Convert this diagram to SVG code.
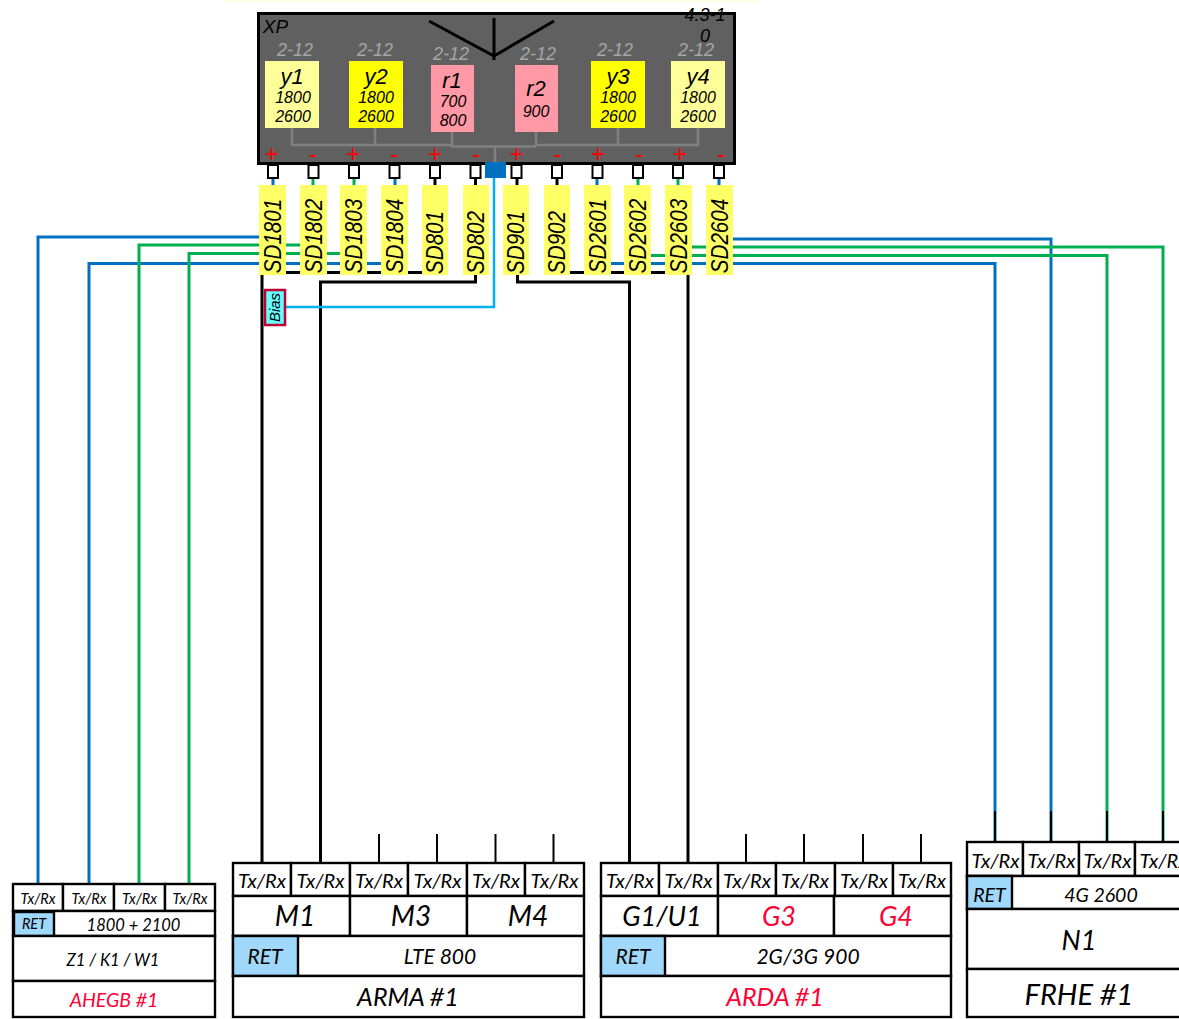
<svg xmlns="http://www.w3.org/2000/svg" width="1179" height="1019" viewBox="0 0 1179 1019">
<style>
text{font-style:italic;text-anchor:middle}
.a{font-family:"Liberation Sans",Arial,sans-serif}
.c{font-family:Lato,"Noto Sans",sans-serif}
.g{font-size:18px;fill:#a6a6a6}
.n{font-size:22px}
.f{font-size:16px}
.pm{font-size:24px;fill:#ff0000;font-style:normal}
.sd{font-size:23.500px}
.t{fill:#fff;stroke:#000;stroke-width:2.4}
.b{fill:#9fd8fb;stroke:#000;stroke-width:2.4}
.port{fill:#fff;stroke:#000;stroke-width:2}
.y{fill:#ffff66}
.wb{fill:none;stroke:#0070c0;stroke-width:3}
.wg{fill:none;stroke:#00b050;stroke-width:3}
.wk{fill:none;stroke:#000;stroke-width:3}
.ws{fill:none;stroke:#000;stroke-width:2}
.gr{fill:none;stroke:#808080;stroke-width:2.500}
.red{fill:#ff0033}
</style>
<rect x="226" y="0" width="534" height="2" fill="#ffffe8"/>

<g id="connectors">
<path class="wb" d="M259 237H38V884M381 263.500H89V884M273 178V185M395 178V185M733 239H1051V841M611 263.500H995V841M597 178V185M719 178V185"/>
<path class="wg" d="M300 245H139V884M340 253.500H189V884M313 178V185M354 178V185M692 247H1163V841M651 255.500H1107V841M638 178V185M678 178V185"/>
<path class="wk" d="M286 272.500H422M570 272.500H665M262 275V863M475.500 275V282H320.500V863M517.500 275V282H629.500V863M688 275V863M435 178V185M475.500 178V185M517 178V185M557 178V185"/>
<path class="ws" d="M379 834V863M437 834V863M495.500 834V863M553.500 834V863M746 834V863M804 834V863M863 834V863M921 834V863M995 811V841M1051 811V841M1107 811V841M1163 811V841"/>
<path d="M285 307H494V178" fill="none" stroke="#00b0f0" stroke-width="2.500"/>
</g>

<g id="xp">
<rect x="258.500" y="13.500" width="476" height="150" fill="#606060" stroke="#000" stroke-width="3"/>
<text class="a" x="275.500" y="33" font-size="19">XP</text>
<text class="a" x="705" y="20.500" font-size="18">4.3-1</text>
<text class="a" x="705" y="42" font-size="18">0</text>
<path d="M429 21L494 56L554 21M494 18V60" fill="none" stroke="#000" stroke-width="3"/>
<path class="gr" d="M292 128V145H452M375 128V145M452 132V146.500H536M536 132V145H698V128M618 128V145M495 146.500V163"/>
</g>

<g id="y1"><text class="a g" x="295" y="56">2-12</text><rect x="265" y="61" width="54" height="67" fill="#ffff99"/><text class="a n" x="292" y="84">y1</text><text class="a f" x="293" y="103">1800</text><text class="a f" x="293" y="122">2600</text></g>
<g id="y2"><text class="a g" x="375" y="56">2-12</text><rect x="349" y="61" width="54" height="67" fill="#ffff00"/><text class="a n" x="376" y="84">y2</text><text class="a f" x="376" y="103">1800</text><text class="a f" x="376" y="122">2600</text></g>
<g id="r1"><text class="a g" x="451" y="60">2-12</text><rect x="431" y="65" width="43" height="67" fill="#ff99a6"/><text class="a n" x="452" y="88">r1</text><text class="a f" x="453" y="107">700</text><text class="a f" x="453" y="126">800</text></g>
<g id="r2"><text class="a g" x="538" y="60">2-12</text><rect x="515" y="65" width="43" height="67" fill="#ff99a6"/><text class="a n" x="536" y="96">r2</text><text class="a f" x="536" y="117">900</text></g>
<g id="y3"><text class="a g" x="615" y="56">2-12</text><rect x="591" y="61" width="54" height="67" fill="#ffff00"/><text class="a n" x="618" y="84">y3</text><text class="a f" x="618" y="103">1800</text><text class="a f" x="618" y="122">2600</text></g>
<g id="y4"><text class="a g" x="696" y="56">2-12</text><rect x="671" y="61" width="54" height="67" fill="#ffff99"/><text class="a n" x="698" y="84">y4</text><text class="a f" x="698" y="103">1800</text><text class="a f" x="698" y="122">2600</text></g>

<g id="polarity">
<text class="a pm" x="271.500" y="161.500">+</text><text class="a pm" x="312.500" y="161.500">-</text><text class="a pm" x="353" y="161.500">+</text><text class="a pm" x="394" y="161.500">-</text><text class="a pm" x="435" y="161.500">+</text><text class="a pm" x="476" y="161.500">-</text><text class="a pm" x="516.500" y="161.500">+</text><text class="a pm" x="557.500" y="161.500">-</text><text class="a pm" x="598" y="161.500">+</text><text class="a pm" x="639" y="161.500">-</text><text class="a pm" x="680" y="161.500">+</text><text class="a pm" x="721" y="161.500">-</text>
</g>

<g id="ports">
<rect class="port" x="268" y="165" width="10" height="13"/><rect class="port" x="308.500" y="165" width="10" height="13"/><rect class="port" x="349" y="165" width="10" height="13"/><rect class="port" x="389.500" y="165" width="10" height="13"/><rect class="port" x="430" y="165" width="10" height="13"/><rect class="port" x="470.500" y="165" width="10" height="13"/><rect class="port" x="511.500" y="165" width="10" height="13"/><rect class="port" x="552" y="165" width="10" height="13"/><rect class="port" x="592.500" y="165" width="10" height="13"/><rect class="port" x="633" y="165" width="10" height="13"/><rect class="port" x="673" y="165" width="10" height="13"/><rect class="port" x="714" y="165" width="10" height="13"/>
<rect x="485" y="162" width="21" height="16" fill="#0070c0"/>
</g>

<g id="SD1801"><rect class="y" x="259" y="185" width="27" height="90"/><text class="a sd" transform="translate(281 236) rotate(-90) scale(.875 1)">SD1801</text></g>
<g id="SD1802"><rect class="y" x="300" y="185" width="27" height="90"/><text class="a sd" transform="translate(322 236) rotate(-90) scale(.875 1)">SD1802</text></g>
<g id="SD1803"><rect class="y" x="340" y="185" width="27" height="90"/><text class="a sd" transform="translate(362 236) rotate(-90) scale(.875 1)">SD1803</text></g>
<g id="SD1804"><rect class="y" x="381" y="185" width="27" height="90"/><text class="a sd" transform="translate(403 236) rotate(-90) scale(.875 1)">SD1804</text></g>
<g id="SD801"><rect class="y" x="422" y="185" width="26" height="90"/><text class="a sd" transform="translate(443 242.500) rotate(-90) scale(.875 1)">SD801</text></g>
<g id="SD802"><rect class="y" x="463" y="185" width="26" height="90"/><text class="a sd" transform="translate(484 242.500) rotate(-90) scale(.875 1)">SD802</text></g>
<g id="SD901"><rect class="y" x="503" y="185" width="26" height="90"/><text class="a sd" transform="translate(524 242.500) rotate(-90) scale(.875 1)">SD901</text></g>
<g id="SD902"><rect class="y" x="544" y="185" width="26" height="90"/><text class="a sd" transform="translate(565 242.500) rotate(-90) scale(.875 1)">SD902</text></g>
<g id="SD2601"><rect class="y" x="584" y="185" width="27" height="90"/><text class="a sd" transform="translate(605.500 236) rotate(-90) scale(.875 1)">SD2601</text></g>
<g id="SD2602"><rect class="y" x="624" y="185" width="27" height="90"/><text class="a sd" transform="translate(645.500 236) rotate(-90) scale(.875 1)">SD2602</text></g>
<g id="SD2603"><rect class="y" x="665" y="185" width="27" height="90"/><text class="a sd" transform="translate(686.500 236) rotate(-90) scale(.875 1)">SD2603</text></g>
<g id="SD2604"><rect class="y" x="706" y="185" width="27" height="90"/><text class="a sd" transform="translate(727.500 236) rotate(-90) scale(.875 1)">SD2604</text></g>

<g id="bias"><rect x="265" y="290" width="20" height="35" fill="#66ffff" stroke="#c00030" stroke-width="2.500"/><text class="a" transform="translate(280 307.500) rotate(-90)" font-size="15">Bias</text></g>

<g id="AHEGB">
<rect class="t" x="13" y="884" width="50" height="27"/><rect class="t" x="63" y="884" width="51" height="27"/><rect class="t" x="114" y="884" width="51" height="27"/><rect class="t" x="165" y="884" width="50" height="27"/>
<rect class="t" x="13" y="911" width="202" height="25"/><rect class="b" x="14" y="912" width="40" height="24"/>
<rect class="t" x="13" y="936" width="202" height="45"/><rect class="t" x="13" y="981" width="202" height="36"/>
<text class="c" x="38" y="904" font-size="14.500">Tx/Rx</text><text class="c" x="89" y="904" font-size="14.500">Tx/Rx</text><text class="c" x="139.500" y="904" font-size="14.500">Tx/Rx</text><text class="c" x="190" y="904" font-size="14.500">Tx/Rx</text>
<text class="c" x="34" y="929" font-size="14.500">RET</text><text class="c" x="133.500" y="931" font-size="16.500">1800 + 2100</text>
<text class="c" x="113" y="966" font-size="16.500">Z1 / K1 / W1</text><text class="c red" x="114" y="1007" font-size="19.500">AHEGB #1</text>
</g>

<g id="ARMA">
<rect class="t" x="233" y="863" width="58" height="33"/><rect class="t" x="291" y="863" width="59" height="33"/><rect class="t" x="350" y="863" width="58" height="33"/><rect class="t" x="408" y="863" width="59" height="33"/><rect class="t" x="467" y="863" width="58" height="33"/><rect class="t" x="525" y="863" width="59" height="33"/>
<rect class="t" x="233" y="896" width="117" height="40"/><rect class="t" x="350" y="896" width="117" height="40"/><rect class="t" x="467" y="896" width="117" height="40"/>
<rect class="t" x="233" y="936" width="351" height="40"/><rect class="b" x="233" y="936" width="65" height="40"/><rect class="t" x="233" y="976" width="351" height="41"/>
<text class="c" x="262" y="888" font-size="20">Tx/Rx</text><text class="c" x="320.500" y="888" font-size="20">Tx/Rx</text><text class="c" x="379" y="888" font-size="20">Tx/Rx</text><text class="c" x="437.500" y="888" font-size="20">Tx/Rx</text><text class="c" x="496" y="888" font-size="20">Tx/Rx</text><text class="c" x="554.500" y="888" font-size="20">Tx/Rx</text>
<text class="c" x="295" y="926" font-size="28">M1</text><text class="c" x="411" y="926" font-size="28">M3</text><text class="c" x="528" y="926" font-size="28">M4</text>
<text class="c" x="265" y="964" font-size="21">RET</text><text class="c" x="440" y="964" font-size="21">LTE 800</text><text class="c" x="408" y="1006" font-size="25">ARMA #1</text>
</g>

<g id="ARDA">
<rect class="t" x="601" y="863" width="58" height="33"/><rect class="t" x="659" y="863" width="59" height="33"/><rect class="t" x="718" y="863" width="58" height="33"/><rect class="t" x="776" y="863" width="59" height="33"/><rect class="t" x="835" y="863" width="58" height="33"/><rect class="t" x="893" y="863" width="58" height="33"/>
<rect class="t" x="601" y="896" width="117" height="40"/><rect class="t" x="718" y="896" width="116" height="40"/><rect class="t" x="834" y="896" width="117" height="40"/>
<rect class="t" x="601" y="936" width="350" height="40"/><rect class="b" x="601" y="936" width="64" height="40"/><rect class="t" x="601" y="976" width="350" height="41"/>
<text class="c" x="630" y="888" font-size="20">Tx/Rx</text><text class="c" x="688.500" y="888" font-size="20">Tx/Rx</text><text class="c" x="747" y="888" font-size="20">Tx/Rx</text><text class="c" x="805" y="888" font-size="20">Tx/Rx</text><text class="c" x="864" y="888" font-size="20">Tx/Rx</text><text class="c" x="922" y="888" font-size="20">Tx/Rx</text>
<text class="c" x="662" y="926" font-size="27">G1/U1</text><text class="c red" x="779" y="926" font-size="27">G3</text><text class="c red" x="896" y="926" font-size="27">G4</text>
<text class="c" x="633" y="964" font-size="21">RET</text><text class="c" x="808" y="964" font-size="21">2G/3G 900</text><text class="c red" x="775" y="1006" font-size="25">ARDA #1</text>
</g>

<g id="FRHE">
<rect class="t" x="967" y="842" width="56" height="34"/><rect class="t" x="1023" y="842" width="56" height="34"/><rect class="t" x="1079" y="842" width="56" height="34"/><rect class="t" x="1135" y="842" width="56" height="34"/>
<rect class="t" x="967" y="876" width="224" height="33"/><rect class="b" x="967" y="876" width="45" height="33"/><rect class="t" x="967" y="909" width="224" height="60"/><rect class="t" x="967" y="969" width="224" height="48"/>
<text class="c" x="995.500" y="868" font-size="20">Tx/Rx</text><text class="c" x="1051.500" y="868" font-size="20">Tx/Rx</text><text class="c" x="1107.500" y="868" font-size="20">Tx/Rx</text><text class="c" x="1163.500" y="868" font-size="20">Tx/Rx</text>
<text class="c" x="989.500" y="902" font-size="19.500">RET</text><text class="c" x="1101" y="902" font-size="19.500">4G 2600</text><text class="c" x="1079" y="950" font-size="27">N1</text><text class="c" x="1079" y="1005" font-size="29">FRHE #1</text>
</g>
</svg>
